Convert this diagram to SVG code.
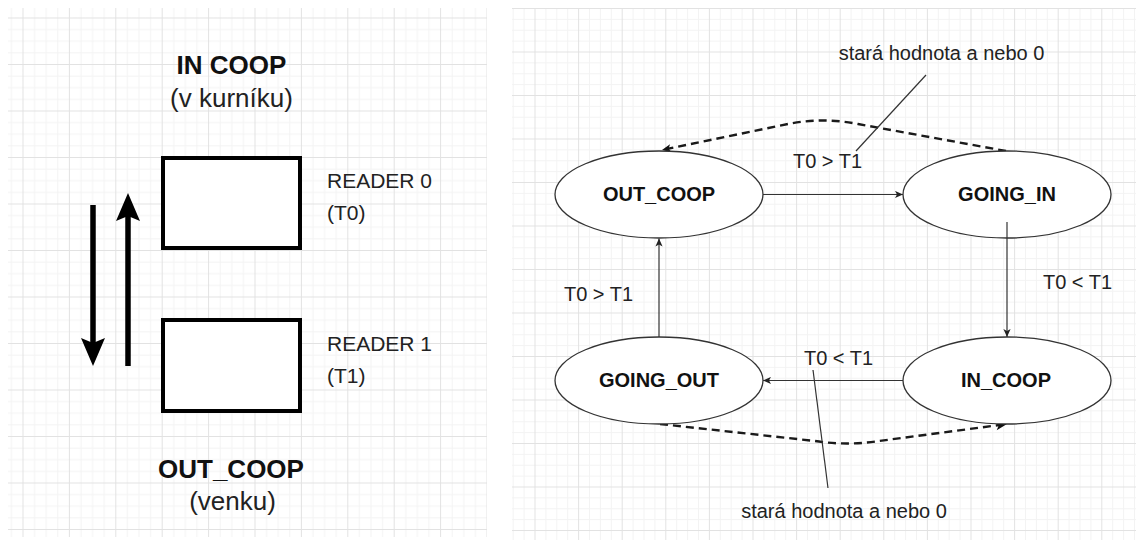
<svg xmlns="http://www.w3.org/2000/svg" width="1139" height="546" viewBox="0 0 1139 546">
  <defs>
    <pattern id="gridL" patternUnits="userSpaceOnUse" x="22.5" y="17.5" width="46.4" height="46.5">
      <rect x="11.6" y="0" width="1" height="46.5" fill="#f3f3f3"/>
      <rect x="23.2" y="0" width="1" height="46.5" fill="#f3f3f3"/>
      <rect x="34.8" y="0" width="1" height="46.5" fill="#f3f3f3"/>
      <rect x="0" y="11.6" width="46.4" height="1" fill="#f3f3f3"/>
      <rect x="0" y="23.2" width="46.4" height="1" fill="#f3f3f3"/>
      <rect x="0" y="34.9" width="46.4" height="1" fill="#f3f3f3"/>
      <rect x="0" y="0" width="1" height="46.5" fill="#e2e2e2"/>
      <rect x="0" y="0" width="46.4" height="1" fill="#e2e2e2"/>
    </pattern>
    <pattern id="gridR" patternUnits="userSpaceOnUse" x="534.5" y="8" width="43.6" height="43.5">
      <rect x="10.9" y="0" width="1" height="43.5" fill="#f3f3f3"/>
      <rect x="21.8" y="0" width="1" height="43.5" fill="#f3f3f3"/>
      <rect x="32.7" y="0" width="1" height="43.5" fill="#f3f3f3"/>
      <rect x="0" y="10.9" width="43.6" height="1" fill="#f3f3f3"/>
      <rect x="0" y="21.8" width="43.6" height="1" fill="#f3f3f3"/>
      <rect x="0" y="32.6" width="43.6" height="1" fill="#f3f3f3"/>
      <rect x="0" y="0" width="1" height="43.5" fill="#e2e2e2"/>
      <rect x="0" y="0" width="43.6" height="1" fill="#e2e2e2"/>
    </pattern>
    <marker id="arrS" viewBox="0 0 10 10" refX="10" refY="5" markerWidth="9" markerHeight="8" markerUnits="userSpaceOnUse" orient="auto">
      <path d="M0,0.5 L10,5 L0,9.5 L2.5,5 Z" fill="#222"/>
    </marker>
    <marker id="arrD1" viewBox="0 0 10 10" refX="10" refY="5" markerWidth="11" markerHeight="9" markerUnits="userSpaceOnUse" orient="auto">
      <path d="M0,0.5 L10,5 L0,9.5 L2.5,5 Z" fill="#111"/>
    </marker>
    <marker id="arrD2" viewBox="0 0 10 10" refX="10" refY="5" markerWidth="13" markerHeight="11" markerUnits="userSpaceOnUse" orient="auto">
      <path d="M0,0.5 L10,5 L0,9.5 L2.5,5 Z" fill="#111"/>
    </marker>
  </defs>
  <style>
    .t { font-family: "Liberation Sans", Arial, sans-serif; fill: #222; }
    .tb { font-family: "Liberation Sans", Arial, sans-serif; font-weight: bold; fill: #111; }
    .big { font-size: 26px; }
    .mid { font-size: 21px; }
    .lbl { font-size: 20px; }
    .box { fill: #fff; stroke: #000; stroke-width: 4; }
    .st { fill: #fff; stroke: #333; stroke-width: 1.3; }
    .conn { fill: none; stroke: #333; stroke-width: 1.2; }
    .dash { fill: none; stroke: #1a1a1a; stroke-width: 2.4; stroke-dasharray: 8 5; }
    .thick { fill: none; stroke: #000; stroke-width: 5.5; }
  </style>

  <rect x="0" y="0" width="1139" height="546" fill="#fff"/>
  <rect x="8" y="8" width="479" height="529" fill="url(#gridL)"/>
  <rect x="512" y="8" width="624" height="532" fill="url(#gridR)"/>

  <!-- Left panel -->
  <g id="left-panel">
    <g id="title-in">
      <text class="tb big" x="231.5" y="74" text-anchor="middle">IN COOP</text>
      <text class="t big" x="231.5" y="107" text-anchor="middle">(v kurníku)</text>
    </g>
    <g id="reader0">
      <rect class="box" x="163" y="158" width="137" height="90"/>
      <text class="t mid" x="327" y="188">READER 0</text>
      <text class="t mid" x="327" y="220">(T0)</text>
    </g>
    <g id="reader1">
      <rect class="box" x="163" y="320" width="137" height="91"/>
      <text class="t mid" x="327" y="351">READER 1</text>
      <text class="t mid" x="327" y="383">(T1)</text>
    </g>
    <g id="title-out">
      <text class="tb big" x="231" y="478" text-anchor="middle">OUT_COOP</text>
      <text class="t big" x="232.5" y="510" text-anchor="middle">(venku)</text>
    </g>
    <g id="direction-arrows">
      <line class="thick" x1="93" y1="205" x2="93" y2="346"/>
      <path d="M81,338 L93,343 L105,338 L93,366 Z" fill="#000"/>
      <line class="thick" x1="128" y1="366" x2="128" y2="214"/>
      <path d="M116,221 L128,216 L140,221 L128,193 Z" fill="#000"/>
    </g>
  </g>

  <!-- Right panel: state machine -->
  <g id="connectors">
    <line class="conn" x1="763" y1="194.5" x2="903" y2="194.5" marker-end="url(#arrS)"/>
    <line class="conn" x1="1007" y1="222" x2="1007" y2="337" marker-end="url(#arrS)"/>
    <line class="conn" x1="903" y1="380.5" x2="763" y2="380.5" marker-end="url(#arrS)"/>
    <line class="conn" x1="659" y1="337" x2="659" y2="238.5" marker-end="url(#arrS)"/>
    <path class="dash" d="M1006,151 L858,124 Q823,117 788,124 L662,150" marker-end="url(#arrD1)"/>
    <path class="dash" d="M660,424 L815,441 Q847,446 879,441 L1007,424" marker-end="url(#arrD2)"/>
    <line class="conn" x1="926" y1="75" x2="856" y2="151"/>
    <line class="conn" x1="813" y1="370" x2="828" y2="488"/>
    <text class="t lbl" x="827.5" y="168" text-anchor="middle">T0 &gt; T1</text>
    <text class="t lbl" x="1077.5" y="289" text-anchor="middle">T0 &lt; T1</text>
    <text class="t lbl" x="838.5" y="365" text-anchor="middle">T0 &lt; T1</text>
    <text class="t lbl" x="598.5" y="301" text-anchor="middle">T0 &gt; T1</text>
    <text class="t lbl" x="941.5" y="60" text-anchor="middle">stará hodnota a nebo 0</text>
    <text class="t lbl" x="844" y="518" text-anchor="middle">stará hodnota a nebo 0</text>
  </g>

  <g id="out_coop">
    <ellipse class="st" cx="659" cy="194.5" rx="104" ry="43.5"/>
    <text class="tb lbl" x="659" y="201" text-anchor="middle">OUT_COOP</text>
  </g>
  <g id="going_in">
    <ellipse class="st" cx="1007" cy="194.5" rx="104" ry="43.5"/>
    <text class="tb lbl" x="1007" y="201" text-anchor="middle">GOING_IN</text>
  </g>
  <g id="in_coop">
    <ellipse class="st" cx="1007" cy="380.5" rx="104" ry="43.5"/>
    <text class="tb lbl" x="1006" y="387" text-anchor="middle">IN_COOP</text>
  </g>
  <g id="going_out">
    <ellipse class="st" cx="659" cy="380.5" rx="104" ry="43.5"/>
    <text class="tb lbl" x="659" y="387" text-anchor="middle">GOING_OUT</text>
  </g>
  <!-- redraw the inner start of GOING_IN -> IN_COOP edge over the ellipse fill -->
  <g id="edge-overlay">
    <line class="conn" x1="1007" y1="222" x2="1007" y2="238"/>
  </g>
</svg>
